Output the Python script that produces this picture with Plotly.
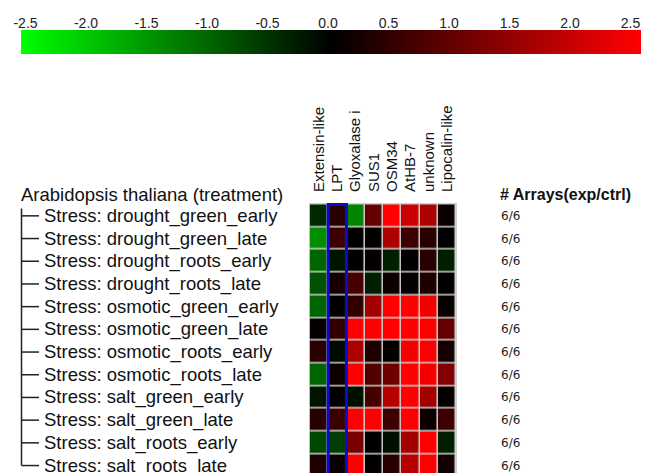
import plotly.graph_objects as go

# ---------------- data ----------------
genes = ["Extensin-like", "LPT", "Glyoxalase i", "SUS1", "OSM34",
         "AtHB-7", "unknown", "Lipocalin-like"]

treatments = [
    "Stress: drought_green_early",
    "Stress: drought_green_late",
    "Stress: drought_roots_early",
    "Stress: drought_roots_late",
    "Stress: osmotic_green_early",
    "Stress: osmotic_green_late",
    "Stress: osmotic_roots_early",
    "Stress: osmotic_roots_late",
    "Stress: salt_green_early",
    "Stress: salt_green_late",
    "Stress: salt_roots_early",
    "Stress: salt_roots_late",
]

log_ratios = [
    [-0.4, 0.4, -1.3, 1.0, 2.5, 2.0, 1.7, 0.1],
    [-1.4, 0.6, 0.0, 0.05, 1.7, 0.6, 0.4, 0.0],
    [-1.0, -0.2, 0.0, 0.05, -0.3, 0.0, 0.4, -0.3],
    [-0.8, 0.2, 0.7, -0.3, 0.15, 0.05, 0.3, 0.0],
    [-1.0, 0.0, 0.5, 1.6, 2.5, 2.5, 2.4, 0.1],
    [0.05, 0.5, 2.5, 2.5, 2.5, 2.5, 2.5, 1.0],
    [0.4, -0.1, 1.7, 0.3, 0.05, 2.4, 2.5, 0.2],
    [-1.0, 0.15, 2.5, 0.8, 1.1, 2.5, 2.4, 1.3],
    [-0.2, 0.0, -0.15, 0.7, 1.8, 2.5, 1.6, 0.05],
    [0.4, 0.6, 2.5, 2.5, 0.6, 2.5, 0.1, 0.6],
    [-0.7, -0.6, 1.2, 0.0, -0.15, 1.6, 2.5, -0.3],
    [0.3, 0.1, 2.5, 0.05, 0.4, 1.8, 2.5, 0.2],
]

array_counts = ["6/6", "6/6", "6/6", "6/6", "6/6", "6/6",
                "6/6", "6/6", "6/6", "6/6", "6/6", "6/6"]

scale_ticks = [-2.5, -2.0, -1.5, -1.0, -0.5, 0.0, 0.5, 1.0, 1.5, 2.0, 2.5]
scale_ticktext = ["-2.5", "-2.0", "-1.5", "-1.0", "-0.5", "0.0",
                  "0.5", "1.0", "1.5", "2.0", "2.5"]

highlight_gene = "LPT"
tree_title = "Arabidopsis thaliana (treatment)"
arrays_title = "# Arrays(exp/ctrl)"

# ---------------- layout helpers ----------------
W, H = 650, 473
FONT = "Liberation Sans, Arial, sans-serif"


def px_x(p):
    return p / W


def px_y(p):
    return 1 - p / H


n_rows = len(treatments)
row_h = 22.7
heat_top = 204.5
plot_top = 203.0
y_top = -0.5 - (heat_top - plot_top) / row_h
y_bot = -0.5 + (H - heat_top) / row_h

fig = go.Figure()

fig.add_trace(go.Heatmap(
    z=log_ratios, x=genes, y=treatments,
    zmin=-2.5, zmax=2.5,
    colorscale=[[0.0, "#00ff00"], [0.5, "#000000"], [1.0, "#ff0000"]],
    xgap=1.5, ygap=1.5,
    hoverinfo="skip",
    colorbar=dict(
        orientation="h",
        x=px_x(21), xanchor="left",
        y=px_y(30), yanchor="top",
        len=620, lenmode="pixels",
        thickness=24, thicknessmode="pixels",
        xpad=0, ypad=0, outlinewidth=0,
        showticklabels=False, ticks="",
    ),
))

# carrier (draws nothing) so that the scale-label axis is rendered
fig.add_trace(go.Scatter(
    x=scale_ticks, y=[0] * len(scale_ticks), mode="none",
    xaxis="x2", yaxis="y2", hoverinfo="skip", showlegend=False,
))

shapes = []
gi = genes.index(highlight_gene)
shapes.append(dict(type="rect", xref="x", yref="y",
                   x0=gi - 0.5, x1=gi + 0.5, y0=-0.5, y1=n_rows + 1,
                   line=dict(color="#0a0ad2", width=3)))
shapes.append(dict(type="line", xref="paper", yref="y",
                   x0=px_x(21.5), x1=px_x(21.5), y0=-0.32, y1=n_rows - 1,
                   line=dict(color="#222222", width=1.5)))
for i, _ in enumerate(treatments):
    shapes.append(dict(type="line", xref="paper", yref="y",
                       x0=px_x(21.5), x1=px_x(39), y0=i, y1=i,
                       line=dict(color="#222222", width=1.5)))

annotations = []
annotations.append(dict(text=tree_title, xref="paper", yref="paper",
                        x=px_x(19), y=px_y(194), xanchor="left", yanchor="middle",
                        showarrow=False, font=dict(family=FONT, size=18.5, color="#111")))
annotations.append(dict(text="<b>" + arrays_title + "</b>", xref="paper", yref="paper",
                        x=px_x(498), y=px_y(194), xanchor="left", yanchor="middle",
                        showarrow=False, font=dict(family=FONT, size=16, color="#111")))
for t, c in zip(treatments, array_counts):
    annotations.append(dict(text=t, xref="paper", yref="y",
                            x=px_x(42), y=t, xanchor="left", yanchor="middle",
                            showarrow=False, font=dict(family=FONT, size=18.5, color="#111")))
    annotations.append(dict(text=c, xref="paper", yref="y",
                            x=px_x(499), y=t, xanchor="left", yanchor="middle",
                            showarrow=False,
                            font=dict(family="DejaVu Sans", size=12, color="#222")))

fig.update_layout(
    width=W, height=H,
    margin=dict(l=0, r=0, t=0, b=0, pad=0, autoexpand=False),
    paper_bgcolor="white",
    plot_bgcolor="#cfcfcf",
    showlegend=False,
    xaxis=dict(domain=[px_x(309), px_x(457)], range=[-0.55, 7.55],
               side="top", tickangle=-90, ticks="",
               tickmode="linear", tick0=0, dtick=1,
               tickfont=dict(family=FONT, size=15, color="#111"),
               ticklabelstandoff=10, automargin=False,
               showgrid=False, zeroline=False, showline=False, fixedrange=True),
    yaxis=dict(domain=[0, px_y(plot_top)], range=[y_bot, y_top],
               showticklabels=False, ticks="", showgrid=False, automargin=False,
               zeroline=False, showline=False, fixedrange=True),
    xaxis2=dict(anchor="y2", domain=[px_x(25.5), px_x(630.5)], range=[-2.5, 2.5],
                side="top", tickmode="array", tickvals=scale_ticks,
                ticktext=scale_ticktext, ticks="", automargin=False,
                tickfont=dict(family=FONT, size=14, color="#222"),
                showgrid=False, zeroline=False, showline=False, fixedrange=True),
    yaxis2=dict(anchor="x2", domain=[px_y(33), px_y(32)], range=[-1, 1],
                showticklabels=False, ticks="", showgrid=False, automargin=False,
                zeroline=False, showline=False, fixedrange=True),
    shapes=shapes,
    annotations=annotations,
)

fig.write_html("out.html")
